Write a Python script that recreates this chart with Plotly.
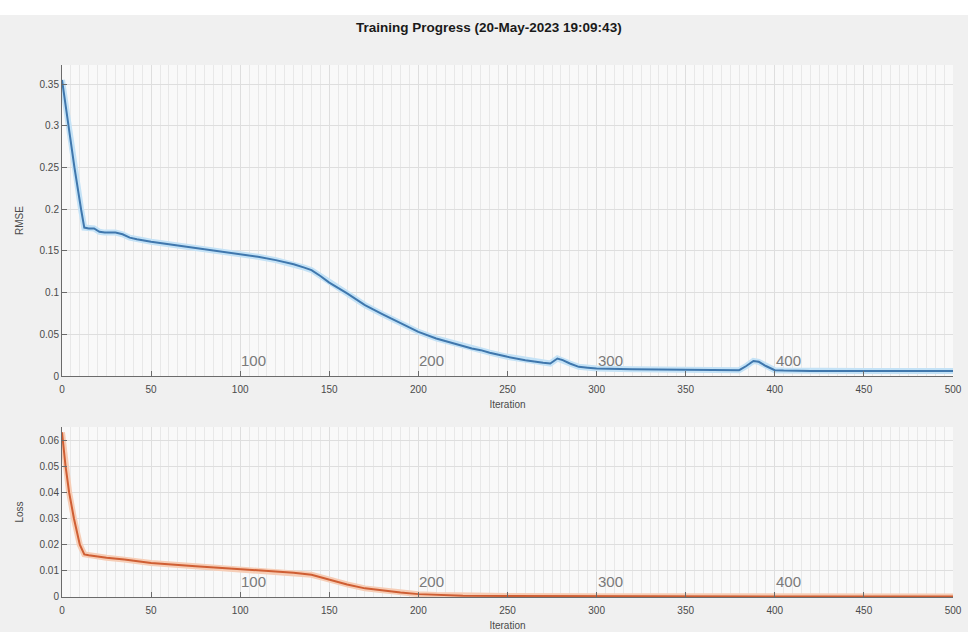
import plotly.graph_objects as go

# ---- data ----
rmse_iter = [0, 3.5, 7, 10.7, 12.5, 15, 18, 21, 24, 30, 34, 38, 42, 50, 60, 75, 90, 100, 110, 120,
             130, 136, 140, 145, 150, 160, 170, 180, 190, 200, 210, 220, 230, 235, 240, 250, 260,
             270, 274, 278, 281, 285, 290, 295, 300, 320, 340, 360, 380, 384, 388, 391, 395, 400,
             405, 420, 450, 480, 500]
rmse_vals = [0.355, 0.30, 0.25, 0.20, 0.178, 0.177, 0.177, 0.173, 0.172, 0.172, 0.170, 0.166, 0.164,
             0.161, 0.158, 0.154, 0.149, 0.146, 0.143, 0.139, 0.134, 0.130, 0.127, 0.120, 0.112,
             0.099, 0.085, 0.074, 0.063, 0.053, 0.045, 0.039, 0.033, 0.031, 0.028, 0.023, 0.019,
             0.016, 0.015, 0.021, 0.019, 0.015, 0.011, 0.010, 0.009, 0.008, 0.0075, 0.007, 0.007,
             0.012, 0.018, 0.017, 0.012, 0.007, 0.0065, 0.006, 0.006, 0.006, 0.006]

loss_iter = [0, 2, 4, 6.7, 10, 12.5, 15, 20, 25, 35, 50, 75, 100, 120, 130, 140, 145, 150, 160,
             170, 180, 190, 200, 210, 225, 250, 300, 400, 500]
loss_vals = [0.063, 0.050, 0.040, 0.030, 0.020, 0.0163, 0.016, 0.0155, 0.015, 0.0143, 0.013,
             0.0118, 0.0106, 0.0098, 0.0093, 0.0085, 0.0076, 0.0065, 0.0048, 0.0033, 0.0024,
             0.0017, 0.0011, 0.0008, 0.0005, 0.0004, 0.0003, 0.0002, 0.0002]

epoch_marks = [100, 200, 300, 400]
epoch_labels = ["100", "200", "300", "400"]
title_text = "Training Progress (20-May-2023 19:09:43)"

# ---- figure ----
fig = go.Figure()
fig.add_trace(go.Scatter(x=rmse_iter, y=rmse_vals, mode="lines",
                         line=dict(color="#c4e2f6", width=6), xaxis="x", yaxis="y", hoverinfo="skip"))
fig.add_trace(go.Scatter(x=rmse_iter, y=rmse_vals, mode="lines",
                         line=dict(color="#3f77ad", width=2), xaxis="x", yaxis="y"))
fig.add_trace(go.Scatter(x=loss_iter, y=loss_vals, mode="lines",
                         line=dict(color="#f6cdb6", width=6), xaxis="x2", yaxis="y2", hoverinfo="skip"))
fig.add_trace(go.Scatter(x=loss_iter, y=loss_vals, mode="lines",
                         line=dict(color="#cf5e33", width=2), xaxis="x2", yaxis="y2"))

FONT = "Liberation Sans, Arial, sans-serif"
tickfont = dict(family=FONT, size=10, color="#4a4a4a")
axcommon = dict(showline=True, linecolor="#6b6b6b", linewidth=1, ticks="inside", ticklen=5,
                tickcolor="#6b6b6b", tickfont=tickfont, zeroline=False, showgrid=True,
                gridcolor="#dedede", gridwidth=1, mirror=False, automargin=False)

xcommon = dict(axcommon, range=[0, 500], tickvals=[0, 50, 100, 150, 200, 250, 300, 350, 400, 450, 500],
               ticklabelstandoff=4,
               minor=dict(dtick=5, tick0=0, showgrid=True, gridcolor="#e8e8e8", gridwidth=1, ticks=""),
               title=dict(text="Iteration", font=dict(family=FONT, size=10, color="#4a4a4a"), standoff=6))

annotations = []
for m, lab in zip(epoch_marks, epoch_labels):
    for xr, yr in (("x", "y domain"), ("x2", "y2 domain")):
        annotations.append(dict(x=m, y=0, xref=xr, yref=yr, text=lab, showarrow=False,
                                xanchor="left", yanchor="bottom", xshift=-1, yshift=5,
                                font=dict(family=FONT, size=15, color="#7a7a7a")))

fig.update_layout(
    width=968, height=632,
    margin=dict(l=62, r=15, t=65, b=35, autoexpand=False),
    paper_bgcolor="#f0f0f0",
    plot_bgcolor="#f9f9f9",
    showlegend=False,
    title=dict(text="<b>" + title_text + "</b>", x=0.505, xanchor="center", y=0.957, yanchor="middle",
               font=dict(family=FONT, size=13.5, color="#1a1a1a")),
    xaxis=dict(xcommon, domain=[0, 1], anchor="y"),
    yaxis=dict(axcommon, domain=[0.4154, 1], anchor="x", range=[0, 0.373],
               tickvals=[0, 0.05, 0.1, 0.15, 0.2, 0.25, 0.3, 0.35],
               ticktext=["0", "0.05", "0.1", "0.15", "0.2", "0.25", "0.3", "0.35"],
               title=dict(text="RMSE", font=dict(family=FONT, size=10, color="#4a4a4a"), standoff=14)),
    xaxis2=dict(xcommon, domain=[0, 1], anchor="y2"),
    yaxis2=dict(axcommon, domain=[0, 0.3195], anchor="x2", range=[0, 0.065],
                tickvals=[0, 0.01, 0.02, 0.03, 0.04, 0.05, 0.06],
                ticktext=["0", "0.01", "0.02", "0.03", "0.04", "0.05", "0.06"],
                title=dict(text="Loss", font=dict(family=FONT, size=10, color="#4a4a4a"), standoff=14)),
    annotations=annotations,
    shapes=[dict(type="rect", xref="paper", yref="paper", x0=-0.1, x1=1.1, y0=1.094, y1=1.15,
                 fillcolor="#ffffff", line=dict(width=0), layer="below")],
)

fig.write_html("out.html", config={"displayModeBar": False},
               post_script="document.body.style.margin='0';document.body.style.background='#f0f0f0';")
